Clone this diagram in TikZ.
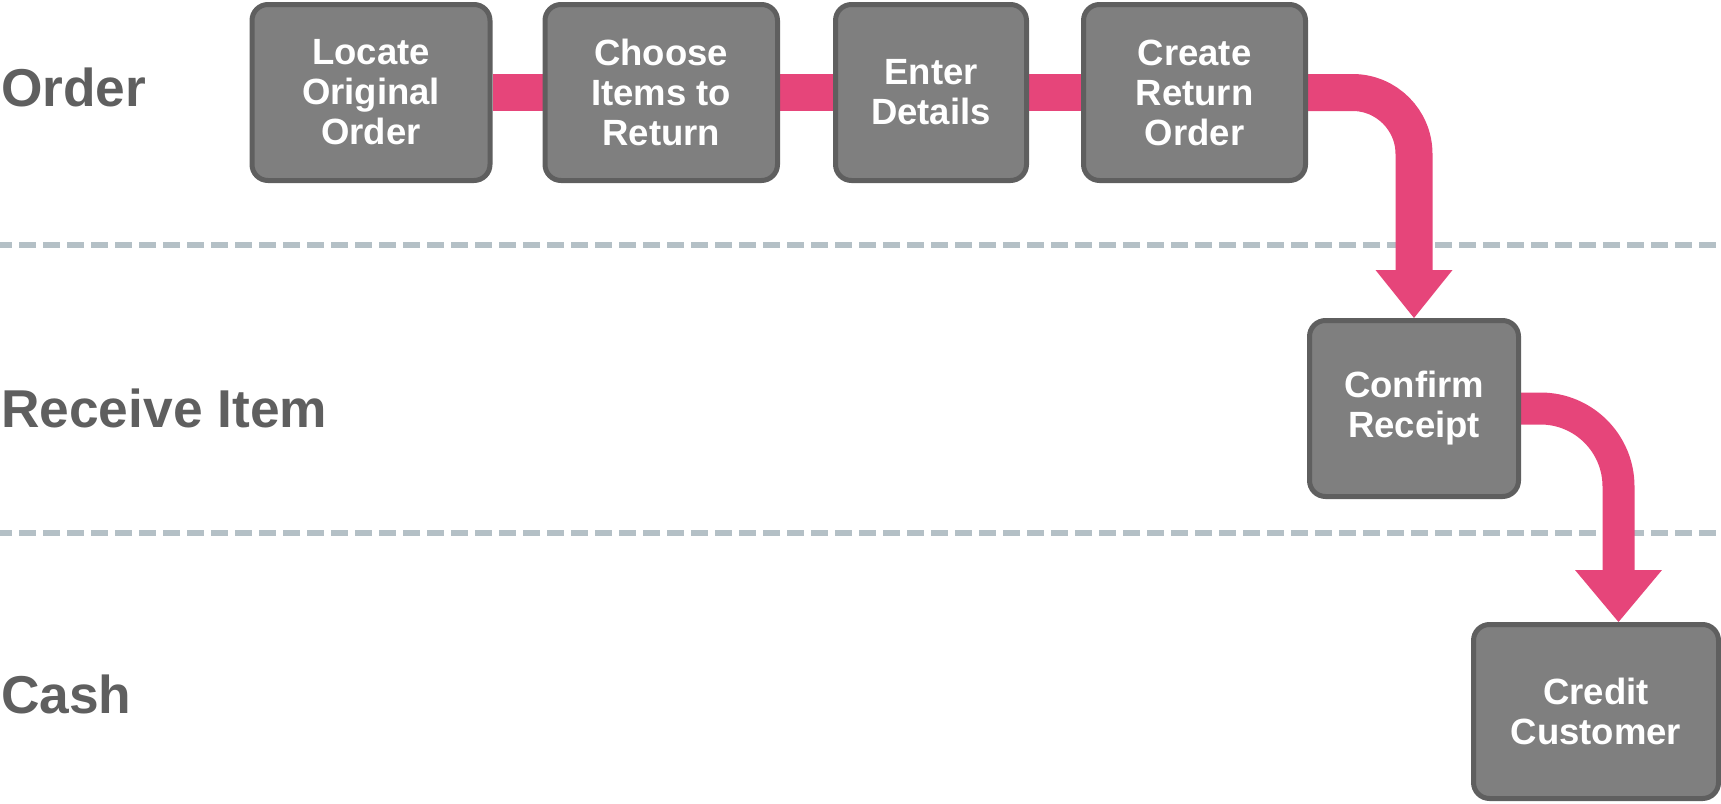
\documentclass[tikz,border=0pt]{standalone}
\usepackage{fontspec}
\setmainfont{Liberation Sans}
\usetikzlibrary{backgrounds}
\definecolor{pinkc}{HTML}{E6457A}
\definecolor{boxfill}{HTML}{7F7F7F}
\definecolor{boxline}{HTML}{5F5F5F}
\definecolor{lanetext}{HTML}{5F5F5F}
\definecolor{dashc}{HTML}{B4C0C6}
\tikzset{
  stepbox/.style={draw=boxline, fill=boxfill, line width=5pt, rounded corners=16pt,
    outer sep=2.5pt, inner sep=0pt, minimum height=176pt, align=center, text=white,
    font=\fontsize{36.5}{40}\selectfont\bfseries},
  lanelabel/.style={anchor=base west, inner sep=0pt, text=lanetext,
    font=\fontsize{53.3}{60}\selectfont\bfseries},
  laneline/.style={draw=dashc, line width=6pt, dash pattern=on 17pt off 7pt, dash phase=5pt},
  flow/.style={draw=pinkc, line width=37pt},
}
\begin{document}
\begin{tikzpicture}[x=1pt,y=-1pt]
\useasboundingbox (0,0) rectangle (1721,803);

\node[lanelabel] (lOrder) at (1,106) {Order};
\node[lanelabel] (lRecv) at (1,427) {Receive Item};
\node[lanelabel] (lCash) at (1,713) {Cash};

\node[stepbox, minimum width=238pt] (B1) at (371,92.5) {Locate\\Original\\Order};
\node[stepbox, minimum width=232.5pt] (B2) at (661.25,92.5) {Choose\\Items to\\Return};
\node[stepbox, minimum width=191pt] (B3) at (931,92.5) {Enter\\Details};
\node[stepbox, minimum width=222pt] (B4) at (1194.5,92.5) {Create\\Return\\Order};
\node[stepbox, minimum width=209pt] (B5) at (1414,408.5) {Confirm\\Receipt};
\node[stepbox, minimum width=245pt, minimum height=174pt] (B6) at (1596,711.5) {Credit\\Customer};

\coordinate (d1a) at (0,245);
\coordinate (d1b) at (1721,245);
\coordinate (d2a) at (0,533);
\coordinate (d2b) at (1721,533);

\begin{scope}[on background layer]
  \draw[laneline] (d1a) -- (d1b);
  \draw[laneline] (d2a) -- (d2b);
  \draw[flow] (B1.east) -- (B2.west);
  \draw[flow] (B2.east) -- (B3.west);
  \draw[flow] (B3.east) -- (B4.west);
  \draw[flow, rounded corners=61.5pt] (B4.east) -| ([yshift=46pt]B5.north);
  \fill[pinkc] (B5.north) -- ++(-38.5,-48) -- ++(77,0) -- cycle;
  \draw[flow, line width=32pt, rounded corners=78pt] (B5.east) -| ([xshift=22.5pt,yshift=50pt]B6.north);
  \fill[pinkc] ([xshift=22.5pt]B6.north) -- ++(-43.5,-52) -- ++(87,0) -- cycle;
\end{scope}
\end{tikzpicture}
\end{document}
